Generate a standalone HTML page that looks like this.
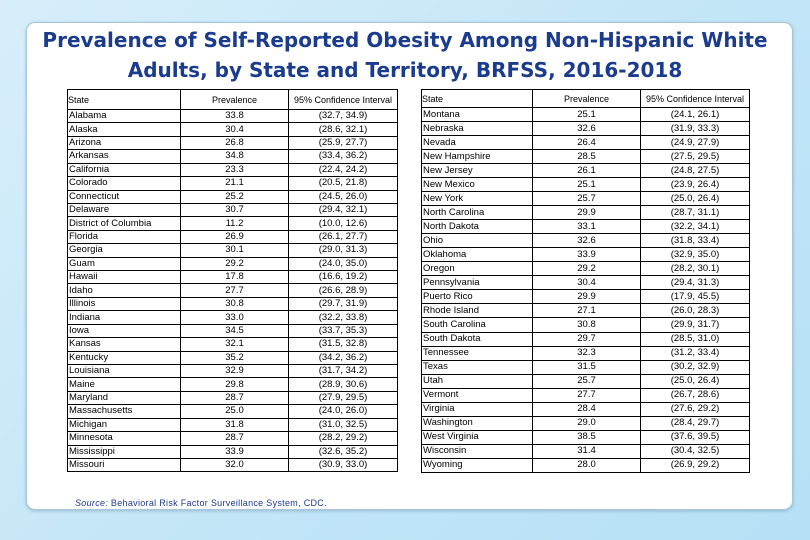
<!DOCTYPE html>
<html><head><meta charset="utf-8">
<style>
html,body{margin:0;padding:0}
body{width:810px;height:540px;overflow:hidden;position:relative;background:linear-gradient(135deg,#d7eefa 0%,#c4e6f7 50%,#b6e0f6 100%);font-family:"Liberation Sans",sans-serif}
#card{position:absolute;left:26px;top:22px;width:765px;height:486px;background:#fff;border:1px solid #a9c6d8;border-radius:9px;box-shadow:0 1px 3px rgba(80,120,150,.4)}
#title{position:absolute;left:0;top:25px;width:810px;text-align:center;font-family:"DejaVu Sans",sans-serif;font-weight:bold;font-size:20px;line-height:30px;color:#1b3b8c;letter-spacing:0px}
table{position:absolute;border-collapse:collapse;font-size:9.5px;color:#000;table-layout:fixed}
td{border:1px solid #000;padding:0 0 0 1px;white-space:nowrap;overflow:hidden;line-height:12px}
td.c{text-align:center;padding:0}
th{border:1px solid #000;font-weight:normal;font-size:9px;white-space:nowrap;overflow:hidden;padding:0}
#source{position:absolute;left:75px;top:498px;font-size:9px;color:#1b3b8c;letter-spacing:.3px}
</style></head><body>
<div id="card"></div>
<div id="title">Prevalence of Self-Reported Obesity Among Non-Hispanic White<br>Adults, by State and Territory, BRFSS, 2016-2018</div>
<table id="t1" style="left:67px;top:89px;width:330px"></table>
<table id="t2" style="left:421px;top:89px;width:328px"></table>
<div id="source"><i>Source:</i> Behavioral Risk Factor Surveillance System, CDC.</div>
<script>
const statesLeft=["Alabama","Alaska","Arizona","Arkansas","California","Colorado","Connecticut","Delaware","District of Columbia","Florida","Georgia","Guam","Hawaii","Idaho","Illinois","Indiana","Iowa","Kansas","Kentucky","Louisiana","Maine","Maryland","Massachusetts","Michigan","Minnesota","Mississippi","Missouri"];
const prevLeft=["33.8","30.4","26.8","34.8","23.3","21.1","25.2","30.7","11.2","26.9","30.1","29.2","17.8","27.7","30.8","33.0","34.5","32.1","35.2","32.9","29.8","28.7","25.0","31.8","28.7","33.9","32.0"];
const ciLeft=["(32.7, 34.9)","(28.6, 32.1)","(25.9, 27.7)","(33.4, 36.2)","(22.4, 24.2)","(20.5, 21.8)","(24.5, 26.0)","(29.4, 32.1)","(10.0, 12.6)","(26.1, 27.7)","(29.0, 31.3)","(24.0, 35.0)","(16.6, 19.2)","(26.6, 28.9)","(29.7, 31.9)","(32.2, 33.8)","(33.7, 35.3)","(31.5, 32.8)","(34.2, 36.2)","(31.7, 34.2)","(28.9, 30.6)","(27.9, 29.5)","(24.0, 26.0)","(31.0, 32.5)","(28.2, 29.2)","(32.6, 35.2)","(30.9, 33.0)"];
const statesRight=["Montana","Nebraska","Nevada","New Hampshire","New Jersey","New Mexico","New York","North Carolina","North Dakota","Ohio","Oklahoma","Oregon","Pennsylvania","Puerto Rico","Rhode Island","South Carolina","South Dakota","Tennessee","Texas","Utah","Vermont","Virginia","Washington","West Virginia","Wisconsin","Wyoming"];
const prevRight=["25.1","32.6","26.4","28.5","26.1","25.1","25.7","29.9","33.1","32.6","33.9","29.2","30.4","29.9","27.1","30.8","29.7","32.3","31.5","25.7","27.7","28.4","29.0","38.5","31.4","28.0"];
const ciRight=["(24.1, 26.1)","(31.9, 33.3)","(24.9, 27.9)","(27.5, 29.5)","(24.8, 27.5)","(23.9, 26.4)","(25.0, 26.4)","(28.7, 31.1)","(32.2, 34.1)","(31.8, 33.4)","(32.9, 35.0)","(28.2, 30.1)","(29.4, 31.3)","(17.9, 45.5)","(26.0, 28.3)","(29.9, 31.7)","(28.5, 31.0)","(31.2, 33.4)","(30.2, 32.9)","(25.0, 26.4)","(26.7, 28.6)","(27.6, 29.2)","(28.4, 29.7)","(37.6, 39.5)","(30.4, 32.5)","(26.9, 29.2)"];
function build(tbl,states,prev,ci,w,headH,rowH){
  const cg=document.createElement('colgroup');
  w.forEach(x=>{const c=document.createElement('col');c.style.width=x+'px';cg.appendChild(c);});
  tbl.appendChild(cg);
  const hr=document.createElement('tr');
  
  
  hr.style.height=headH+'px';
  [["State","left"],["Prevalence","center"],["95% Confidence Interval","center"]].forEach(h=>{
    const th=document.createElement('th');th.textContent=h[0];th.style.textAlign=h[1];
    
    
    hr.appendChild(th);});
  tbl.appendChild(hr);
  states.forEach((s,i)=>{
    const tr=document.createElement('tr');
    
    
    tr.style.height=rowH+'px';
    const a=document.createElement('td');a.textContent=s;
    const b=document.createElement('td');b.textContent=prev[i];b.className='c';
    const c=document.createElement('td');c.textContent=ci[i];c.className='c';
    tr.append(a,b,c);tbl.appendChild(tr);
  });
}
build(document.getElementById('t1'),statesLeft,prevLeft,ciLeft,[113,108,109],20,13.43);
build(document.getElementById('t2'),statesRight,prevRight,ciRight,[111,108,109],18,14.04);
</script>
</body></html>
